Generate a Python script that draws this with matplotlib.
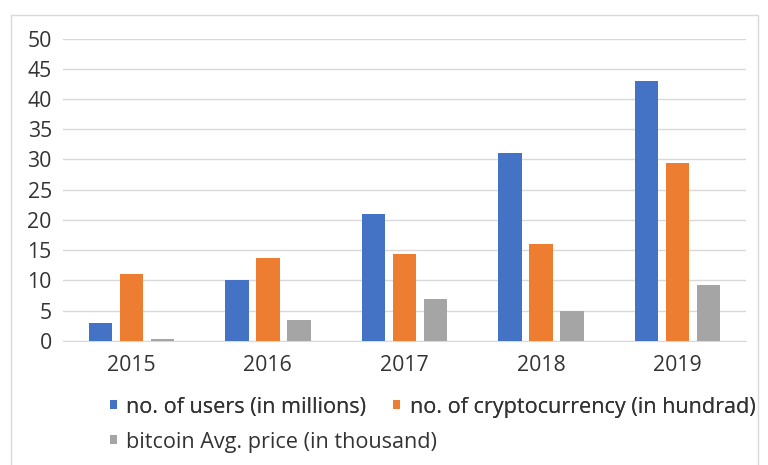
import numpy as np
import matplotlib.pyplot as plt
from matplotlib.patches import Rectangle

years = ['2015', '2016', '2017', '2018', '2019']
users = [3, 10, 21, 31, 43]
crypto = [11, 13.7, 14.4, 16, 29.5]
btc_price = [0.3, 3.5, 7, 5, 9.2]
labels = ['no. of users (in millions)', 'no. of cryptocurrency (in hundrad)',
          'bitcoin Avg. price (in thousand)']
colors = ['#4472C4', '#ED7D31', '#A5A5A5']

plt.rcParams['font.family'] = ['Open Sans', 'DejaVu Sans']

fig = plt.figure(figsize=(7.68, 4.65), dpi=100)
ax = fig.add_axes([0.082, 0.2667, 0.889, 0.6505])

# light frame around the chart area
fig.patches.append(Rectangle((11/768, -0.1), 747/768, 1 - 15/465 + 0.1,
                             transform=fig.transFigure, fill=False,
                             edgecolor='#D9D9D9', linewidth=1))

x = np.arange(len(years))
w = 0.172
step = 0.227
bars = []
for k, vals in enumerate([users, crypto, btc_price]):
    b = ax.bar(x + (k - 1) * step, vals, width=w, color=colors[k], label=labels[k], zorder=3)
    bars.append(b)

ax.set_xlim(-0.5, len(years) - 0.5)
ax.set_ylim(0, 50)
ax.set_yticks(np.arange(0, 51, 5))
ax.set_xticks(x)
ax.set_xticklabels(years)
ax.grid(axis='y', color='#D9D9D9', linewidth=1, zorder=0)
for s in ['top', 'right', 'left']:
    ax.spines[s].set_visible(False)
ax.spines['bottom'].set_color('#D9D9D9')
ax.tick_params(axis='both', length=0, labelsize=15.3, labelcolor='#333333')
ax.tick_params(axis='y', pad=8)
ax.tick_params(axis='x', pad=10)

# legend: two rows laid out like the original, text flowing left to right
leg_kw = dict(frameon=False, fontsize=15.6, handlelength=0.33, handleheight=0.24,
              handletextpad=0.42, columnspacing=1.25, borderpad=0, borderaxespad=0,
              labelcolor='#333333', loc='center left')
leg1 = fig.legend([bars[0], bars[1]], [labels[0], labels[1]], ncol=2,
                  bbox_to_anchor=(110/768, 1 - 407/465), **leg_kw)
fig.add_artist(leg1)
fig.legend([bars[2]], [labels[2]], ncol=1,
           bbox_to_anchor=(110/768, 1 - 442/465), **leg_kw)

fig.savefig('out.png', dpi=100)
